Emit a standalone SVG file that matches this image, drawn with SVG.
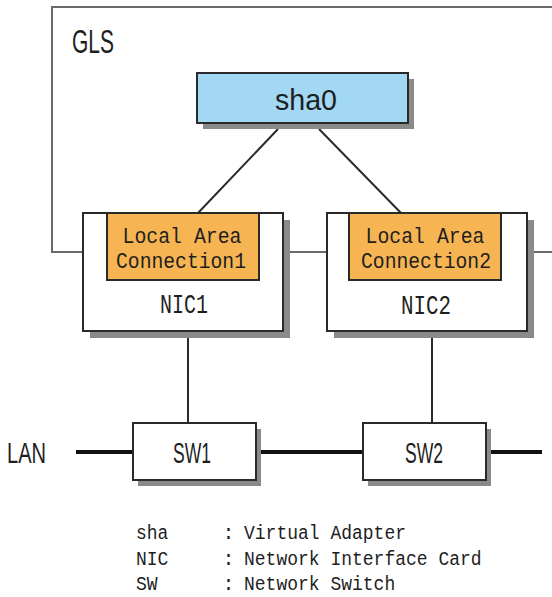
<svg xmlns="http://www.w3.org/2000/svg" width="552" height="597" viewBox="0 0 552 597">
<style>
.frame{fill:none;stroke:#6a6a6a;stroke-width:2}
.conn{fill:none;stroke:#2a2a2a;stroke-width:2}
.lan{fill:none;stroke:#111;stroke-width:4}
.shadow{fill:#8a8a8a}
.box{fill:#fff;stroke:#2a2a2a;stroke-width:2}
.sha{fill:#a2d8f3;stroke:#2a2a2a;stroke-width:2}
.lac{fill:#f6b552;stroke:#2a2a2a;stroke-width:2}
.sans{font-family:"Liberation Sans",Arial,sans-serif;fill:#1e1e1e}
.mono{font-family:"Liberation Mono","DejaVu Sans Mono",monospace;fill:#1e1e1e}
</style>
<rect width="552" height="597" fill="#fff"/>
<g id="gls-frame">
<path class="frame" d="M552 7 H52 V252 H84"/>
<text class="sans" x="72" y="53" font-size="33" textLength="42" lengthAdjust="spacingAndGlyphs">GLS</text>
</g>
<g id="connectors">
<line class="frame" x1="282" y1="252" x2="328" y2="252"/>
<line class="frame" x1="526" y1="252" x2="552" y2="252"/>
<line class="conn" x1="278" y1="129" x2="198" y2="213"/>
<line class="conn" x1="319" y1="129" x2="401" y2="213"/>
<line class="conn" x1="188" y1="331" x2="188" y2="423"/>
<line class="conn" x1="432" y1="331" x2="432" y2="423"/>
<line class="lan" x1="76" y1="452" x2="133" y2="452"/>
<line class="lan" x1="256" y1="452" x2="363" y2="452"/>
<line class="lan" x1="486" y1="452" x2="542" y2="452"/>
</g>
<g id="sha0">
<rect class="shadow" x="203" y="79" width="211" height="50"/>
<rect class="sha" x="197" y="73" width="211" height="50"/>
<text class="sans" x="306" y="110" font-size="29" text-anchor="middle" textLength="62" lengthAdjust="spacingAndGlyphs">sha0</text>
</g>
<g id="nic1">
<rect class="shadow" x="90" y="220" width="200" height="118"/>
<rect class="box" x="83" y="213" width="200" height="118"/>
<rect class="lac" x="107" y="213" width="152" height="67"/>
<text class="mono" x="182" y="243" font-size="22" text-anchor="middle" textLength="119" lengthAdjust="spacingAndGlyphs">Local Area</text>
<text class="mono" x="181" y="268" font-size="22" text-anchor="middle" textLength="130" lengthAdjust="spacingAndGlyphs">Connection1</text>
<text class="mono" x="184" y="313" font-size="28" text-anchor="middle" textLength="48" lengthAdjust="spacingAndGlyphs">NIC1</text>
</g>
<g id="nic2">
<rect class="shadow" x="334" y="220" width="200" height="118"/>
<rect class="box" x="327" y="213" width="200" height="118"/>
<rect class="lac" x="349" y="213" width="152" height="67"/>
<text class="mono" x="425" y="243" font-size="22" text-anchor="middle" textLength="119" lengthAdjust="spacingAndGlyphs">Local Area</text>
<text class="mono" x="426" y="268" font-size="22" text-anchor="middle" textLength="130" lengthAdjust="spacingAndGlyphs">Connection2</text>
<text class="mono" x="426" y="314" font-size="28" text-anchor="middle" textLength="50" lengthAdjust="spacingAndGlyphs">NIC2</text>
</g>
<g id="sw1">
<rect class="shadow" x="138" y="429" width="123" height="57"/>
<rect class="box" x="133" y="423" width="123" height="57"/>
<text class="sans" x="192" y="463" font-size="29" text-anchor="middle" textLength="38" lengthAdjust="spacingAndGlyphs">SW1</text>
</g>
<g id="sw2">
<rect class="shadow" x="368" y="429" width="123" height="57"/>
<rect class="box" x="363" y="423" width="123" height="57"/>
<text class="sans" x="424" y="463" font-size="29" text-anchor="middle" textLength="38" lengthAdjust="spacingAndGlyphs">SW2</text>
</g>
<g id="lan-label">
<text class="sans" x="7" y="463" font-size="29" textLength="39" lengthAdjust="spacingAndGlyphs">LAN</text>
</g>
<g id="legend" font-size="20">
<text class="mono" x="136" y="539" textLength="32.4" lengthAdjust="spacingAndGlyphs">sha</text>
<text class="mono" x="222.4" y="539">:</text>
<text class="mono" x="244" y="539" textLength="162" lengthAdjust="spacingAndGlyphs">Virtual Adapter</text>
<text class="mono" x="136" y="565" textLength="32.4" lengthAdjust="spacingAndGlyphs">NIC</text>
<text class="mono" x="222.4" y="565">:</text>
<text class="mono" x="244" y="565" textLength="237.6" lengthAdjust="spacingAndGlyphs">Network Interface Card</text>
<text class="mono" x="136" y="590" textLength="21.6" lengthAdjust="spacingAndGlyphs">SW</text>
<text class="mono" x="222.4" y="590">:</text>
<text class="mono" x="244" y="590" textLength="151.2" lengthAdjust="spacingAndGlyphs">Network Switch</text>
</g>
</svg>
